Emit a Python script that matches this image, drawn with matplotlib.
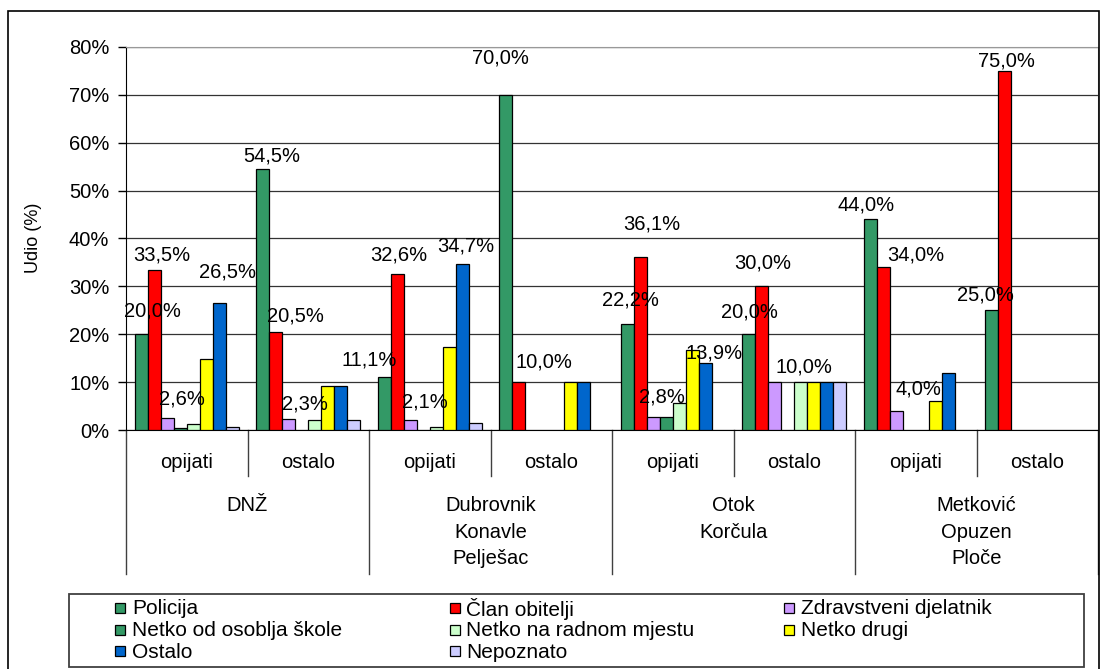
import matplotlib
matplotlib.use('Agg')
import matplotlib.pyplot as plt
import numpy as np
from matplotlib.patches import Rectangle

plt.rcParams['font.family'] = ['Liberation Sans', 'DejaVu Sans']

# data
groups = ['DNŽ', 'Dubrovnik\nKonavle\nPelješac', 'Otok\nKorčula', 'Metković\nOpuzen\nPloče']
subgroups = ['opijati', 'ostalo']
series = ['Policija', 'Član obitelji', 'Zdravstveni djelatnik', 'Netko od osoblja škole',
          'Netko na radnom mjestu', 'Netko drugi', 'Ostalo', 'Nepoznato']
colors = ['#339966', '#FF0000', '#CC99FF', '#339966', '#CCFFCC', '#FFFF00', '#0066CC', '#CCCCFF']

policija = [20.0, 54.5, 11.1, 70.0, 22.2, 20.0, 44.0, 25.0]
clan = [33.5, 20.5, 32.6, 10.0, 36.1, 30.0, 34.0, 75.0]
zdravstveni = [2.6, 2.3, 2.1, 0, 2.8, 10.0, 4.0, 0]
skola = [0.4, 0, 0, 0, 2.8, 0, 0, 0]
radno = [1.3, 2.1, 0.7, 0, 5.6, 10.0, 0, 0]
drugi = [14.9, 9.2, 17.4, 10.0, 16.7, 10.0, 6.0, 0]
ostalo = [26.5, 9.2, 34.7, 10.0, 13.9, 10.0, 12.0, 0]
nepoznato = [0.7, 2.1, 1.4, 0, 0, 10.0, 0, 0]
data = [policija, clan, zdravstveni, skola, radno, drugi, ostalo, nepoznato]

# which bars carry a value label: (category, series)
labelled = [(0, 0), (0, 1), (0, 2), (0, 6),
            (1, 0), (1, 1), (1, 2),
            (2, 0), (2, 1), (2, 2), (2, 6),
            (3, 0), (3, 1),
            (4, 0), (4, 1), (4, 2), (4, 6),
            (5, 0), (5, 1), (5, 2),
            (6, 0), (6, 1), (6, 2),
            (7, 0), (7, 1)]
# label shifts from the bar top, in pixels
label_shift = [(11, 23), (8, 15), (15, 19), (8, 31),
               (9, 13), (20, 16), (16, 15),
               (-15, 17), (2, 19), (15, 18), (4, 18),
               (-5, 37), (25, 20),
               (3, 24), (12, 33), (9, 20), (9, 10),
               (1, 22), (1, 23), (29, 15),
               (-4, 14), (33, 12), (22, 22),
               (-6, 15), (2, 10)]

W, H = 1100, 669


def px(x, y):
    return x / W, 1 - y / H


fig = plt.figure(figsize=(W / 100, H / 100), dpi=100)
ax = fig.add_axes([126 / W, 1 - 430 / H, (1098 - 126) / W, (430 - 47) / H])

bw = 13 / 121.5
x = np.arange(len(policija))
for j, (vals, c) in enumerate(zip(data, colors)):
    ax.bar(x + (j - 3.5) * bw, vals, bw, color=c, edgecolor='black',
           linewidth=[0.9 if v > 0 else 0 for v in vals], zorder=3)

ax.set_xlim(-0.5, 7.5)
ax.set_ylim(0, 80)
ax.set_yticks(range(0, 81, 10))
ax.set_yticklabels([f'{v}%' for v in range(0, 81, 10)])
ax.set_xticks([])
ax.tick_params(axis='y', direction='out', length=6, width=1, labelsize=14.5, pad=6)
ax.yaxis.grid(True, color='#333333', lw=0.9)
ax.set_axisbelow(True)
for s in ['top', 'right']:
    ax.spines[s].set_color('#999999')
for s in ['left', 'bottom']:
    ax.spines[s].set_color('black')

# two-level category axis
trans = ax.get_xaxis_transform()
ah = 430 - 47
for k in range(9):
    bottom = 574 if k % 2 == 0 else 476
    ax.plot([k - 0.5, k - 0.5], [0, -(bottom - 430) / ah], transform=trans,
            clip_on=False, color='#404040', lw=1)
for i in range(8):
    ax.text(i, -(462 - 430) / ah, subgroups[i % 2], transform=trans,
            ha='center', va='center', fontsize=14.5)
for g, name in enumerate(groups):
    ax.text(2 * g + 0.5, -(496 - 430) / ah, name, transform=trans, ha='center',
            va='top', multialignment='center', fontsize=14.5, linespacing=1.5)

fig.text(*px(33, 238), 'Udio (%)', rotation=90, ha='center', va='center', fontsize=13)

# value labels
for (cat, s), (dx, up) in zip(labelled, label_shift):
    v = data[s][cat]
    ax.annotate(f'{v:.1f}%'.replace('.', ','), xy=(cat + (s - 3.5) * bw, v),
                xytext=(dx, up), textcoords='offset pixels', ha='center',
                va='center', fontsize=14.5, zorder=5, annotation_clip=False)

# legend, three columns filled row by row
for i, (name, c) in enumerate(zip(series, colors)):
    row, col = divmod(i, 3)
    lx = 115 + 334.5 * col
    ly = 607 + 21.5 * row
    fig.add_artist(Rectangle(px(lx, ly + 6), 10 / W, 10 / H, facecolor=c,
                             edgecolor='black', lw=0.9, transform=fig.transFigure))
    fig.text(*px(lx + 17, ly), name, ha='left', va='center_baseline', fontsize=15)
fig.add_artist(Rectangle(px(69, 667), (1084 - 69) / W, 73 / H, fill=False,
                         edgecolor='#404040', lw=1.3, transform=fig.transFigure))

# outer chart border
fig.add_artist(Rectangle((8 / W, -0.01), (1099 - 8) / W, 1 - 11 / H + 0.01, fill=False,
                         edgecolor='black', lw=1.2, transform=fig.transFigure))

fig.savefig('out.png', dpi=100)
